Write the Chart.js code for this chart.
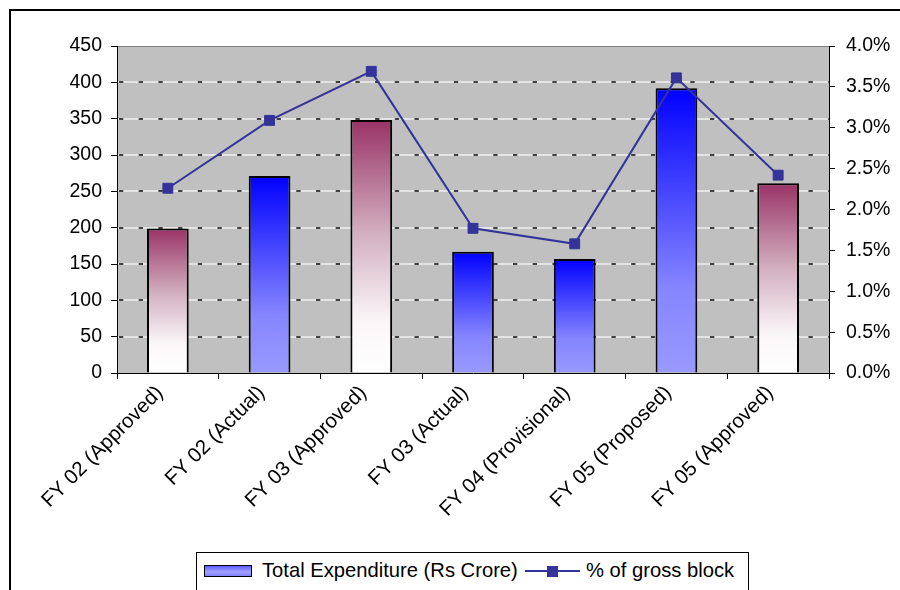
<!DOCTYPE html>
<html>
<head>
<meta charset="utf-8">
<title>Total Expenditure and % of gross block</title>
<script src="https://cdn.jsdelivr.net/npm/chart.js@4.4.0/dist/chart.umd.min.js"></script>
<style>
  html, body { margin: 0; padding: 0; width: 900px; height: 590px; overflow: hidden; background: #fff; }
  #frame { position: absolute; left: 9px; top: 9px; width: 1000px; height: 1000px;
           border-left: 2px solid #000; border-top: 2px solid #000; }
  #wrap { position: absolute; left: 0; top: 0; width: 900px; height: 590px; }
  #legend { position: absolute; left: 196px; top: 552px; width: 551px; height: 60px;
            border: 1px solid #000; background: #fff;
            font-family: "Liberation Sans", Arial, sans-serif; font-size: 20.2px; color: #000; }
  #legend .txt { position: absolute; top: 6px; white-space: nowrap; }
  #legend .barKey { position: absolute; left: 7px; top: 12px; width: 46px; height: 10px;
                    border: 1.5px solid #000;
                    background: linear-gradient(#5c5cff, #a3a3ff 60%, #8080ff); }
  #legend .lineKey { position: absolute; left: 328px; top: 17px; width: 55px; height: 2px; background: #333399; }
  #legend .lineKey i { position: absolute; left: 22px; top: -4.5px; width: 11px; height: 11px; background: #333399; }
</style>
</head>
<body>
<div id="frame"></div>
<div id="wrap"><canvas id="chart" width="900" height="590"></canvas></div>
<div id="legend">
  <span class="barKey"></span><span class="txt" style="left:65px">Total Expenditure (Rs Crore)</span>
  <span class="lineKey"><i></i></span><span class="txt" style="left:389px">% of gross block</span>
</div>
<script>
'use strict';

const categories = ['FY 02 (Approved)', 'FY 02 (Actual)', 'FY 03 (Approved)', 'FY 03 (Actual)',
  'FY 04 (Provisional)', 'FY 05 (Proposed)', 'FY 05 (Approved)'];
const expenditure = [199, 271, 348, 167, 157, 392, 261];
const grossBlockPct = [2.26, 3.09, 3.69, 1.77, 1.58, 3.61, 2.42];
const leftTicks = [0, 50, 100, 150, 200, 250, 300, 350, 400, 450];
const rightTicks = [0, 0.5, 1.0, 1.5, 2.0, 2.5, 3.0, 3.5, 4.0];

const FAMILY = '"Liberation Sans", Arial, sans-serif';
const FONT = { family: FAMILY, size: 19.5 };

// approved figures get the maroon fade, the rest the blue one
function barFill( context ) {
  const chart = context.chart;
  if ( !chart.chartArea || context.type !== 'data' ) {
    return '#9999ff';
  }
  const y = chart.scales.y;
  const top = y.getPixelForValue( context.raw );
  const bottom = y.getPixelForValue( 0 );
  const g = chart.ctx.createLinearGradient( 0, top, 0, bottom );
  if ( categories[context.dataIndex].includes( 'Approved' ) ) {
    g.addColorStop( 0, '#993366' );
    g.addColorStop( 0.45, '#d3b0c0' );
    g.addColorStop( 0.8, '#fbf7f9' );
    g.addColorStop( 1, '#ffffff' );
  } else {
    g.addColorStop( 0, '#0000ff' );
    g.addColorStop( 0.7, '#8585ff' );
    g.addColorStop( 1, '#9999ff' );
  }
  return g;
}

// grey plot area with light gridlines under dark dashes
const plotBackdrop = {
  id: 'plotBackdrop',
  beforeDraw( chart ) {
    const { ctx, chartArea: a, scales } = chart;
    ctx.save();
    ctx.fillStyle = '#c0c0c0';
    ctx.fillRect( a.left, a.top, a.right - a.left, a.bottom - a.top );
    for ( let i = 1; i < leftTicks.length - 1; i++ ) {
      const py = Math.round( scales.y.getPixelForValue( leftTicks[i] ) );
      ctx.beginPath();
      ctx.moveTo( a.left, py );
      ctx.lineTo( a.right, py );
      ctx.lineWidth = 2;
      ctx.strokeStyle = '#e4e4e4';
      ctx.setLineDash( [] );
      ctx.stroke();
      ctx.strokeStyle = '#404040';
      ctx.setLineDash( [4.3, 15.4] );
      ctx.lineDashOffset = -2;
      ctx.stroke();
    }
    ctx.setLineDash( [] );
    ctx.beginPath();
    ctx.moveTo( a.left, a.top + 0.5 );
    ctx.lineTo( a.right, a.top + 0.5 );
    ctx.lineWidth = 1;
    ctx.strokeStyle = '#808080';
    ctx.stroke();
    ctx.restore();
  }
};

const ctx = document.getElementById( 'chart' ).getContext( '2d' );
new Chart( ctx, {
  type: 'bar',
  data: {
    labels: categories,
    datasets: [{
      type: 'line',
      label: '% of gross block',
      data: grossBlockPct,
      yAxisID: 'y1',
      order: 0,
      borderColor: '#333399',
      backgroundColor: '#333399',
      borderWidth: 2,
      pointStyle: 'rect',
      pointRadius: 7,
      pointBorderWidth: 1,
      tension: 0
    }, {
      label: 'Total Expenditure (Rs Crore)',
      data: expenditure,
      yAxisID: 'y',
      order: 1,
      backgroundColor: barFill,
      borderColor: '#000000',
      borderWidth: 2,
      barPercentage: 0.41,
      categoryPercentage: 1
    }]
  },
  options: {
    responsive: false,
    animation: false,
    layout: { padding: { top: 46, left: 0, right: 0, bottom: 0 } },
    plugins: { legend: { display: false }, tooltip: { enabled: false } },
    scales: {
      x: {
        offset: true,
        grid: { offset: true, drawOnChartArea: false, color: '#000', tickLength: 6 },
        border: { color: '#000', width: 1 },
        ticks: { color: '#000', font: { family: FAMILY, size: 20.5 }, minRotation: 45, maxRotation: 45,
          padding: 2, labelOffset: -8 },
        afterFit( scale ) { scale.height = 217; }
      },
      y: {
        position: 'left',
        min: 0,
        max: 450,
        afterBuildTicks( scale ) { scale.ticks = leftTicks.map( v => ( { value: v } ) ); },
        grid: { drawOnChartArea: false, color: '#000', tickLength: 6 },
        border: { color: '#000', width: 1 },
        ticks: { color: '#000', font: FONT, padding: 9 },
        afterFit( scale ) { scale.width = 117; }
      },
      y1: {
        position: 'right',
        min: 0,
        max: 4,
        afterBuildTicks( scale ) { scale.ticks = rightTicks.map( v => ( { value: v } ) ); },
        grid: { drawOnChartArea: false, color: '#000', tickLength: 6 },
        border: { color: '#000', width: 1 },
        ticks: { color: '#000', font: FONT, padding: 11, callback: v => v.toFixed( 1 ) + '%' },
        afterFit( scale ) { scale.width = 71; }
      }
    }
  },
  plugins: [plotBackdrop]
} );
</script>
</body>
</html>
